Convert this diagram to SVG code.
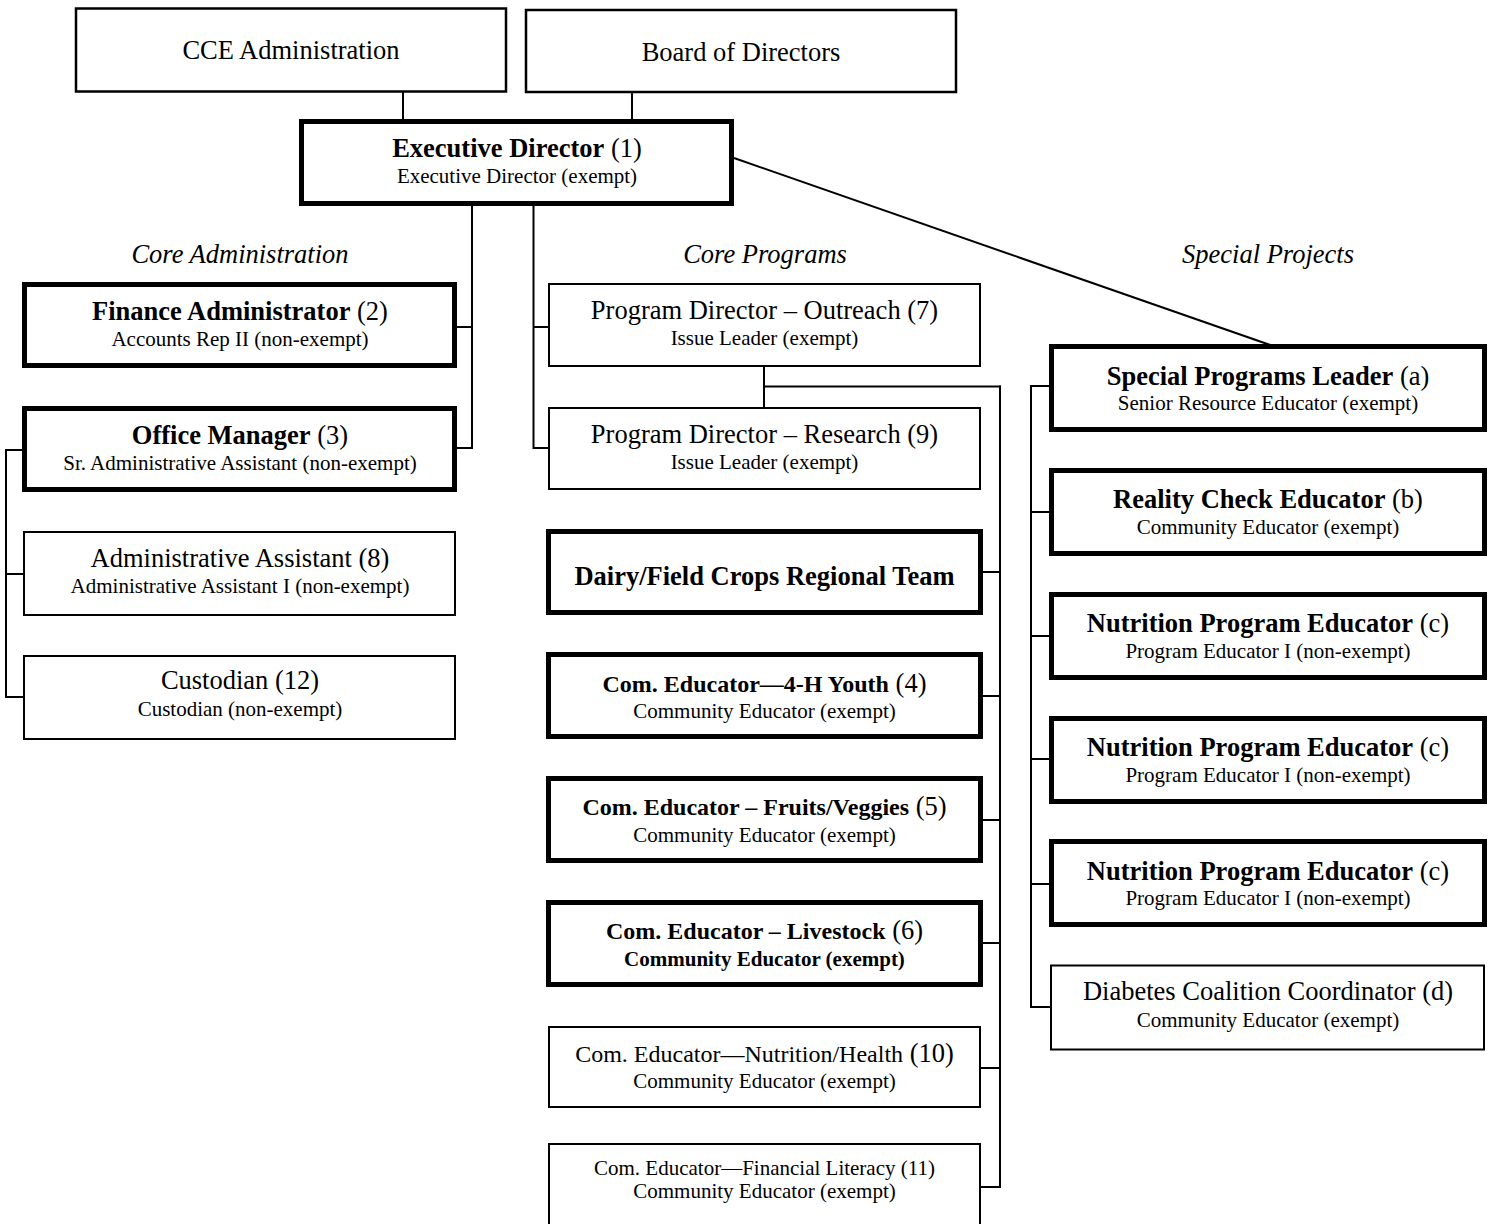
<svg xmlns="http://www.w3.org/2000/svg" width="1492" height="1224" viewBox="0 0 1492 1224">
<style>
rect{fill:#fff;stroke:#000}
.thin{stroke-width:2}
.thick{stroke-width:5}
.top{stroke-width:2.5}
text{font-family:"Liberation Serif","Times New Roman",serif;fill:#000;text-anchor:middle}
.t{font-size:26.5px}
.s{font-size:21px}
.m{font-size:24px}
.b{font-weight:bold}
.i{font-style:italic;font-size:26.5px}
.c line{stroke:#000;stroke-width:2}
</style>
<rect x="0" y="0" width="1492" height="1224" style="fill:#fff;stroke:none"/>
<g class="c" id="connectors">
<line x1="403" y1="92" x2="403" y2="120"/>
<line x1="632" y1="93" x2="632" y2="120"/>
<line x1="734" y1="158" x2="1273" y2="346"/>
<line x1="472" y1="206" x2="472" y2="449"/>
<line x1="457" y1="327" x2="473" y2="327"/>
<line x1="457" y1="448" x2="473" y2="448"/>
<line x1="533.5" y1="206" x2="533.5" y2="449"/>
<line x1="533" y1="327" x2="548" y2="327"/>
<line x1="533" y1="448" x2="548" y2="448"/>
<line x1="22" y1="450" x2="5.5" y2="450"/>
<line x1="6" y1="449" x2="6" y2="698"/>
<line x1="5" y1="574" x2="23" y2="574"/>
<line x1="5" y1="697" x2="23" y2="697"/>
<line x1="764" y1="367" x2="764" y2="407"/>
<line x1="763" y1="386.5" x2="1001" y2="386.5"/>
<line x1="1000" y1="385.5" x2="1000" y2="1188"/>
<line x1="983" y1="572" x2="1000" y2="572"/>
<line x1="983" y1="696" x2="1000" y2="696"/>
<line x1="983" y1="820" x2="1000" y2="820"/>
<line x1="983" y1="943" x2="1000" y2="943"/>
<line x1="981" y1="1068" x2="1000" y2="1068"/>
<line x1="981" y1="1187" x2="1001" y2="1187"/>
<line x1="1031" y1="385" x2="1031" y2="1008"/>
<line x1="1030" y1="386" x2="1049" y2="386"/>
<line x1="1030" y1="512" x2="1049" y2="512"/>
<line x1="1030" y1="636" x2="1049" y2="636"/>
<line x1="1030" y1="759" x2="1049" y2="759"/>
<line x1="1030" y1="884" x2="1049" y2="884"/>
<line x1="1030" y1="1007" x2="1050" y2="1007"/>
</g>
<g id="labels">
<text class="i" x="240" y="263">Core Administration</text>
<text class="i" x="765" y="263">Core Programs</text>
<text class="i" x="1268" y="263">Special Projects</text>
</g>
<g id="cce"><rect class="top" x="76" y="8.5" width="430" height="83"/><text class="t" x="291" y="59">CCE Administration</text></g>
<g id="board"><rect class="top" x="526" y="10" width="430" height="82"/><text class="t" x="741" y="61">Board of Directors</text></g>
<g id="exec"><rect class="thick" x="301.5" y="121.5" width="430" height="82"/><text class="t" x="517" y="157"><tspan class="b">Executive Director</tspan> (1)</text><text class="s" x="517" y="183">Executive Director (exempt)</text></g>
<g id="finance"><rect class="thick" x="24.5" y="284.5" width="430" height="81"/><text class="t" x="240" y="320"><tspan class="b">Finance Administrator</tspan> (2)</text><text class="s" x="240" y="346">Accounts Rep II (non-exempt)</text></g>
<g id="office"><rect class="thick" x="24.5" y="408.5" width="430" height="81"/><text class="t" x="240" y="444"><tspan class="b">Office Manager</tspan> (3)</text><text class="s" x="240" y="470">Sr. Administrative Assistant (non-exempt)</text></g>
<g id="admin"><rect class="thin" x="24" y="532" width="431" height="83"/><text class="t" x="240" y="567">Administrative Assistant (8)</text><text class="s" x="240" y="593">Administrative Assistant I (non-exempt)</text></g>
<g id="custodian"><rect class="thin" x="24" y="656" width="431" height="83"/><text class="t" x="240" y="689">Custodian (12)</text><text class="s" x="240" y="716">Custodian (non-exempt)</text></g>
<g id="outreach"><rect class="thin" x="549" y="284" width="431" height="82"/><text class="t" x="764.5" y="319">Program Director – Outreach (7)</text><text class="s" x="764.5" y="345">Issue Leader (exempt)</text></g>
<g id="research"><rect class="thin" x="549" y="408" width="431" height="81"/><text class="t" x="764.5" y="443">Program Director – Research (9)</text><text class="s" x="764.5" y="469">Issue Leader (exempt)</text></g>
<g id="dairy"><rect class="thick" x="548.5" y="531.5" width="432" height="81"/><text class="t b" x="764.5" y="585">Dairy/Field Crops Regional Team</text></g>
<g id="youth"><rect class="thick" x="548.5" y="654.5" width="432" height="82"/><text class="t" x="764.5" y="692"><tspan class="b m">Com. Educator—4-H Youth</tspan> (4)</text><text class="s" x="764.5" y="718">Community Educator (exempt)</text></g>
<g id="fruits"><rect class="thick" x="548.5" y="778.5" width="432" height="82"/><text class="t" x="764.5" y="815"><tspan class="b m">Com. Educator – Fruits/Veggies</tspan> (5)</text><text class="s" x="764.5" y="842">Community Educator (exempt)</text></g>
<g id="livestock"><rect class="thick" x="548.5" y="902.5" width="432" height="82"/><text class="t" x="764.5" y="939"><tspan class="b m">Com. Educator – Livestock</tspan> (6)</text><text class="s b" x="764.5" y="966">Community Educator (exempt)</text></g>
<g id="nutrition-health"><rect class="thin" x="549" y="1027" width="431" height="80"/><text class="t" x="764.5" y="1062"><tspan class="m">Com. Educator—Nutrition/Health</tspan> (10)</text><text class="s" x="764.5" y="1088">Community Educator (exempt)</text></g>
<g id="financial-literacy"><rect class="thin" x="549" y="1144" width="431" height="100"/><text class="s" x="764.5" y="1175">Com. Educator—Financial Literacy (11)</text><text class="s" x="764.5" y="1198">Community Educator (exempt)</text></g>
<g id="special-leader"><rect class="thick" x="1051.5" y="346.5" width="433" height="83"/><text class="t" x="1268" y="385"><tspan class="b">Special Programs Leader</tspan> (a)</text><text class="s" x="1268" y="410">Senior Resource Educator (exempt)</text></g>
<g id="reality-check"><rect class="thick" x="1051.5" y="470.5" width="433" height="83"/><text class="t" x="1268" y="508"><tspan class="b">Reality Check Educator</tspan> (b)</text><text class="s" x="1268" y="534">Community Educator (exempt)</text></g>
<g id="nutrition-1"><rect class="thick" x="1051.5" y="594.5" width="433" height="83"/><text class="t" x="1268" y="632"><tspan class="b">Nutrition Program Educator</tspan> (c)</text><text class="s" x="1268" y="658">Program Educator I (non-exempt)</text></g>
<g id="nutrition-2"><rect class="thick" x="1051.5" y="718.5" width="433" height="83"/><text class="t" x="1268" y="756"><tspan class="b">Nutrition Program Educator</tspan> (c)</text><text class="s" x="1268" y="782">Program Educator I (non-exempt)</text></g>
<g id="nutrition-3"><rect class="thick" x="1051.5" y="841.5" width="433" height="83"/><text class="t" x="1268" y="880"><tspan class="b">Nutrition Program Educator</tspan> (c)</text><text class="s" x="1268" y="905">Program Educator I (non-exempt)</text></g>
<g id="diabetes"><rect class="thin" x="1051" y="965.5" width="433" height="84"/><text class="t" x="1268" y="1000">Diabetes Coalition Coordinator (d)</text><text class="s" x="1268" y="1027">Community Educator (exempt)</text></g>
</svg>
